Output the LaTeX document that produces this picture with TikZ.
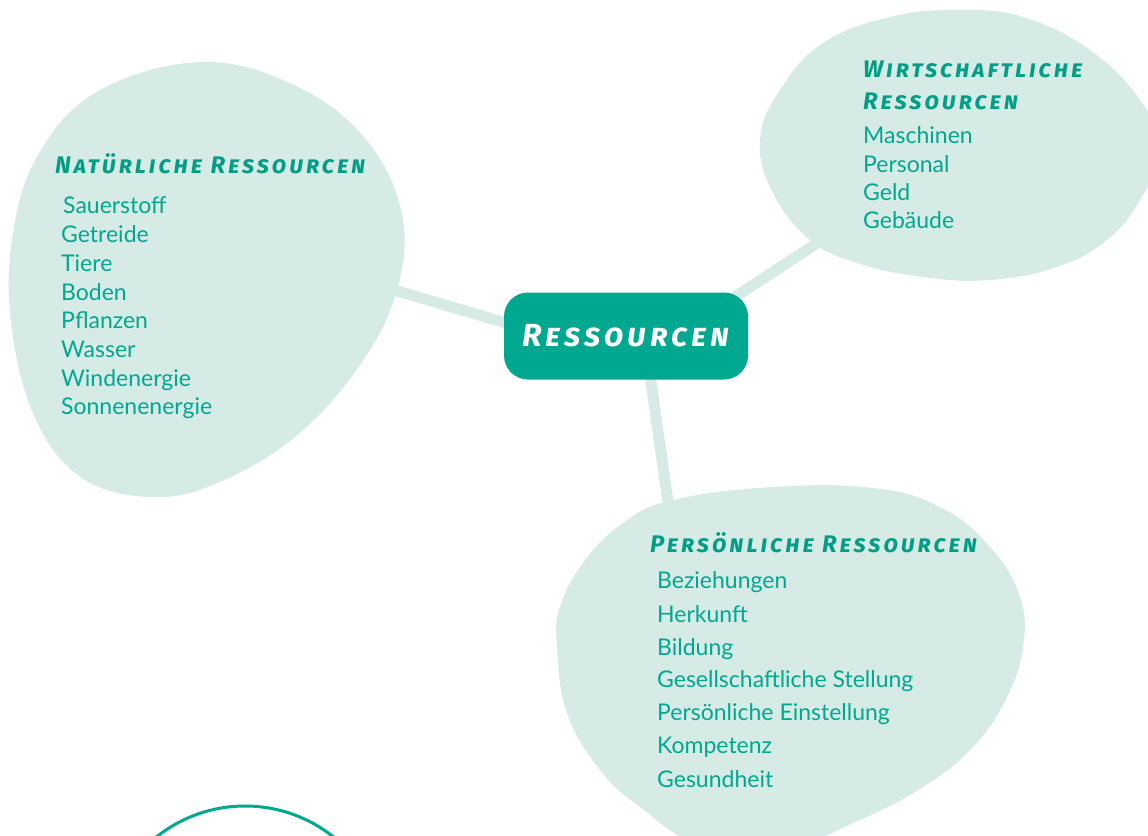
\documentclass[tikz,border=0pt]{standalone}
\usepackage{fontspec}
\setmainfont{Lato}
\newfontfamily\headfont{Fira Sans}[Letters=SmallCaps, LetterSpace=12]
\definecolor{tealmain}{HTML}{00A88F}
\definecolor{tealhead}{HTML}{009E84}
\definecolor{blobfill}{HTML}{D6EBE6}
\tikzset{
  itemtext/.style={anchor=base west, inner sep=0pt, text=tealmain, font=\fontsize{23}{27}\selectfont},
  headtext/.style={anchor=base west, inner sep=0pt, text=tealhead, font=\headfont\bfseries\itshape\fontsize{24}{28}\selectfont},
  blob/.style={fill=blobfill},
  link/.style={draw=blobfill, line width=11pt},
  centerbox/.style={fill=tealmain, rounded corners=24pt, minimum width=244pt, minimum height=87pt, text=white, font=\headfont\bfseries\itshape\fontsize{32}{36}\selectfont, inner sep=0pt}
}
\begin{document}
\begin{tikzpicture}[x=1pt,y=-1pt]
\useasboundingbox (0,0) rectangle (1148,835);
\clip (0,0) rectangle (1148,835);
% connector ends
\coordinate (ctr) at (626,336);
\coordinate (cL) at (530,330);
\coordinate (nL) at (370,283);
\coordinate (cR) at (700,320);
\coordinate (nR) at (840,228);
\coordinate (cB) at (645,340);
\coordinate (nB) at (672,530);
\draw[link] (cL) -- (nL);
\draw[link] (cR) -- (nR);
\draw[link] (cB) -- (nB);
% blobs
\fill[blob] plot[smooth cycle, tension=0.65] coordinates {(205,62) (300,88) (368,142) (402,215) (397,290) (360,365) (295,437) (215,484) (150,497) (82,478) (36,420) (12,330) (12,240) (38,155) (100,90)};
\fill[blob] plot[smooth cycle, tension=0.7] coordinates {(957,10) (1023,17) (1090,50) (1140,100) (1160,150) (1140,200) (1107,240) (1057,267) (990,280) (923,277) (857,263) (810,240) (773,193) (760,140) (780,90) (823,43) (890,17)};
\fill[blob] plot[smooth cycle, tension=0.7] coordinates {(773,487) (873,488) (940,507) (990,547) (1020,597) (1023,647) (1007,697) (973,747) (923,787) (860,820) (780,850) (700,845) (640,807) (600,770) (567,713) (557,647) (560,607) (583,563) (623,523) (673,500)};
% circle outline
\draw[tealmain, line width=3pt] (245,948) circle[radius=142];
% center node
\node[centerbox] (center) at (ctr) {Ressourcen};
% natural
\node[headtext] (hN) at (55,173) {Natürliche Ressourcen};
\node[itemtext] (n1) at (63,213) {Sauerstoff};
\node[itemtext] (n2) at (61,242) {Getreide};
\node[itemtext] (n3) at (61,271) {Tiere};
\node[itemtext] (n4) at (61,300) {Boden};
\node[itemtext] (n5) at (61,328) {Pflanzen};
\node[itemtext] (n6) at (61,357) {Wasser};
\node[itemtext] (n7) at (61,386) {Windenergie};
\node[itemtext] (n8) at (61,414) {Sonnenenergie};
% economic
\node[headtext] (hW1) at (863,77) {Wirtschaftliche};
\node[headtext] (hW2) at (863,109) {Ressourcen};
\node[itemtext] (w1) at (863,143) {Maschinen};
\node[itemtext] (w2) at (863,172) {Personal};
\node[itemtext] (w3) at (863,200) {Geld};
\node[itemtext] (w4) at (863,228) {Gebäude};
% personal
\node[headtext] (hP) at (650,552) {Persönliche Ressourcen};
\node[itemtext] (p1) at (657,588) {Beziehungen};
\node[itemtext] (p2) at (657,622) {Herkunft};
\node[itemtext] (p3) at (657,655) {Bildung};
\node[itemtext] (p4) at (657,687) {Gesellschaftliche Stellung};
\node[itemtext] (p5) at (657,720) {Persönliche Einstellung};
\node[itemtext] (p6) at (657,753) {Kompetenz};
\node[itemtext] (p7) at (657,787) {Gesundheit};
\end{tikzpicture}
\end{document}
